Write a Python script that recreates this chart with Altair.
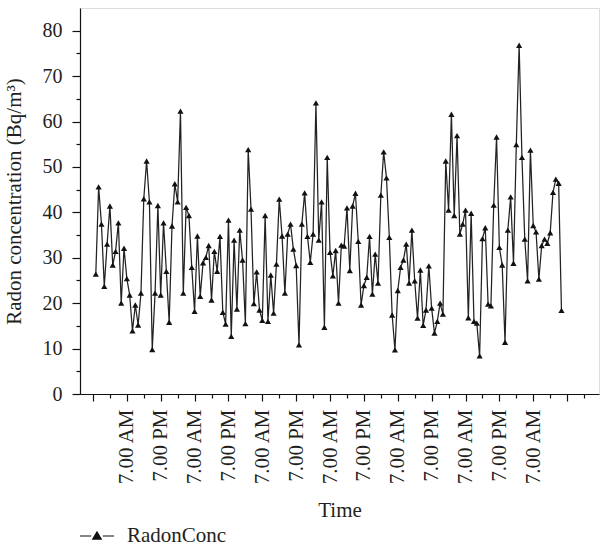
import altair as alt
import pandas as pd

# Radon concentration (Bq/m^3), hourly readings
block1 = [26.4, 45.6, 37.4, 23.7, 33.0, 41.4, 28.4, 31.4, 37.7, 20.0, 32.1, 25.4,
          21.8, 13.9, 19.6, 15.2, 22.2, 43.0, 51.3, 42.3, 9.8, 22.2, 41.5, 21.8,
          37.7, 27.0, 15.8, 37.0, 46.3, 42.3, 62.3, 22.2, 41.1, 39.3, 27.9, 18.2,
          34.8, 21.5, 28.9, 30.1, 32.7]
block2 = [20.7, 31.4, 27.0, 34.7, 18.0, 15.4, 38.3, 12.7, 33.9, 18.7, 36.1, 29.5,
          15.5, 53.8, 40.7, 19.9, 26.9, 18.5, 16.2, 39.3, 16.0, 26.2, 17.8, 28.6,
          42.9, 34.8, 22.2, 35.2, 37.4, 31.9, 28.3, 10.8, 37.4, 44.3, 34.7, 29.0,
          35.2, 64.1, 33.9, 42.3, 14.7, 52.1, 31.2]
block3 = [26.0, 31.6, 20.0, 32.8, 32.6, 41.0, 27.2, 41.4, 44.2, 33.6, 19.6, 23.9,
          25.7, 34.7, 22.0, 30.8, 24.4, 43.8, 53.3, 47.6, 34.5, 17.4, 9.7, 22.8,
          27.9, 29.5, 33.0, 24.4, 36.1, 24.9, 16.7, 27.3, 15.1, 18.5, 28.2, 18.9,
          13.4, 16.0, 20.0, 17.6]
block4 = [51.3, 40.5, 61.6, 39.3, 56.9, 35.2, 37.4, 40.5, 16.8, 39.8, 16.0, 15.6,
          8.4, 34.2, 36.6, 19.8, 19.4, 41.6, 56.6, 32.3, 28.4, 11.4, 36.1, 43.4,
          28.8, 54.9, 76.8, 52.1, 34.1, 24.9, 53.7, 37.1, 35.7, 25.3, 32.7, 34.1,
          33.2, 35.5, 44.4, 47.3, 46.4, 18.4]

radon = block1 + block2 + block3 + block4
hour_index = list(range(len(radon)))

# x ticks (hour index): major every 12 h, minor in between
major_x = [-1, 11, 23, 35, 47, 59, 71, 83, 95, 107, 119, 131, 143, 155, 167]
minor_x = [5, 17, 29, 41, 53, 65, 77, 89, 101, 113, 125, 137, 149, 161, 173]
tick_labels = ["", "7.00 AM", "7.00 PM", "7.00 AM", "7.00 PM", "7.00 AM", "7.00 PM",
               "7.00 AM", "7.00 PM", "7.00 AM", "7.00 PM", "7.00 AM", "7.00 PM",
               "7.00 AM", ""]
major_y = [0, 10, 20, 30, 40, 50, 60, 70, 80]
minor_y = [5, 15, 25, 35, 45, 55, 65, 75]

df = pd.DataFrame({"t": hour_index, "v": radon, "series": "RadonConc"})

FONT = "Liberation Serif"
TXT = "#231f20"
INK = "#111111"

label_array = "[" + ",".join("'" + s + "'" for s in tick_labels) + "]"
label_expr = label_array + "[round((datum.value + 1) / 12)]"

xscale = alt.Scale(domain=[-5.6, 178.3], nice=False, zero=False)
yscale = alt.Scale(domain=[0, 85], nice=False, zero=True)

base = alt.Chart(df)

line = base.mark_line(color="#222222", strokeWidth=1.25).encode(
    x=alt.X("t:Q", scale=xscale,
            axis=alt.Axis(orient="bottom", values=major_x, tickSize=7, labelExpr=label_expr,
                          labelAngle=270, labelFont=FONT, labelFontSize=21, labelColor=TXT,
                          labelPadding=8, labelOverlap=False, labelFlush=False,
                          title="Time", titleFont=FONT, titleFontSize=21,
                          titleFontWeight="normal", titleColor=TXT, titlePadding=15,
                          grid=False, domainColor=INK, tickColor=INK,
                          domainWidth=1.2, tickWidth=1.2)),
    y=alt.Y("v:Q", scale=yscale,
            axis=alt.Axis(orient="left", values=major_y, tickSize=8, labelFont=FONT,
                          labelFontSize=20, labelColor=TXT, labelPadding=10,
                          title="Radon concentration (Bq/m³)", titleFont=FONT,
                          titleFontSize=21, titleFontWeight="normal", titleColor=TXT,
                          titlePadding=18, grid=False, domainColor=INK,
                          tickColor=INK, domainWidth=1.2, tickWidth=1.2)),
)

legend_symbol = "M-1,0L-0.34,0M0.34,0L1,0M-0.25,0.18L0,-0.24L0.25,0.18Z"

pts = base.mark_point(shape="triangle-up", filled=True, size=38, opacity=1).encode(
    x=alt.X("t:Q", scale=xscale,
            axis=alt.Axis(orient="bottom", values=minor_x, tickSize=4, labels=False,
                          domain=False, title=None, grid=False, tickColor=INK,
                          tickWidth=1.2)),
    y=alt.Y("v:Q", scale=yscale,
            axis=alt.Axis(orient="left", values=minor_y, tickSize=4, labels=False,
                          domain=False, title=None, grid=False, tickColor=INK,
                          tickWidth=1.2)),
    color=alt.Color("series:N", scale=alt.Scale(range=[INK]),
                    legend=alt.Legend(title=None, orient="none", legendX=-1, legendY=510,
                                      symbolType=legend_symbol, symbolSize=1156,
                                      symbolStrokeWidth=1.2, symbolStrokeColor=INK,
                                      symbolFillColor=INK, labelFont=FONT,
                                      labelFontSize=21, labelColor=TXT, labelOffset=12)),
)

chart = (
    alt.layer(line, pts)
    .resolve_axis(x="independent", y="independent")
    .properties(width=519, height=386,
                padding={"left": 80, "top": 8, "right": 1, "bottom": 153},
                autosize=alt.AutoSizeParams(type="none"))
    .configure_view(stroke=None)
    .configure(background="white")
)

chart.save("out.html", embed_options={"renderer": "svg", "actions": False})
